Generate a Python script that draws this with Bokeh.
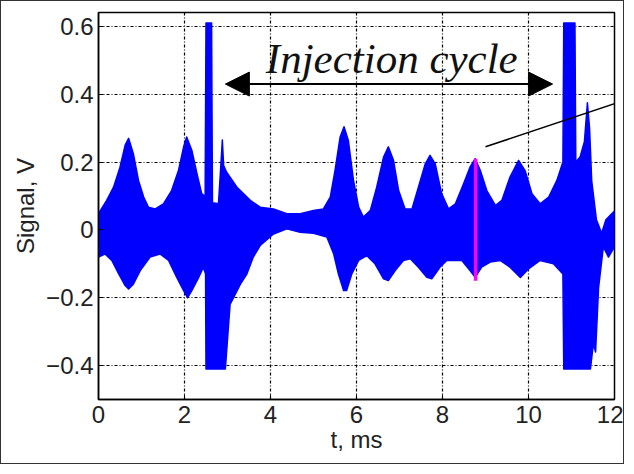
from bokeh.plotting import figure
from bokeh.models import Range1d, FixedTicker, Label, Arrow, NormalHead
from bokeh.embed import file_html
from bokeh.resources import INLINE

# ---- data (signal envelope) ----
t_upper = [0.0, 0.19, 0.35, 0.5, 0.62, 0.70, 0.81, 0.93, 1.05, 1.16, 1.32, 1.51, 1.70, 1.86, 1.98,
           2.05, 2.17, 2.29, 2.40, 2.48, 2.50, 2.63, 2.65, 2.79, 2.85, 2.88, 2.91, 2.98, 3.22, 3.53,
           3.76, 4.07, 4.38, 4.69, 5.0, 5.23, 5.39, 5.5, 5.62, 5.71, 5.81, 5.93, 6.05, 6.16, 6.32,
           6.47, 6.63, 6.74, 6.86, 6.98, 7.13, 7.29, 7.44, 7.6, 7.71, 7.83, 7.98, 8.14, 8.3, 8.49,
           8.64, 8.76, 8.88, 9.03, 9.23, 9.38, 9.57, 9.77, 9.92, 10.08, 10.27, 10.47, 10.66, 10.8,
           10.82, 11.08, 11.1, 11.2, 11.3, 11.37, 11.42, 11.47, 11.58, 11.7, 11.8, 11.93, 12.0]
v_upper = [0.048, 0.087, 0.126, 0.185, 0.25, 0.27, 0.225, 0.146, 0.097, 0.067, 0.062, 0.077, 0.116, 0.175, 0.245,
           0.274, 0.235, 0.166, 0.107, 0.098, 0.61, 0.61, 0.08, 0.077, 0.2, 0.265, 0.19, 0.17, 0.126, 0.087,
           0.067, 0.062, 0.048, 0.048, 0.057, 0.062, 0.097, 0.175, 0.274, 0.304, 0.264, 0.146, 0.067, 0.038, 0.057,
           0.126, 0.215, 0.245, 0.205, 0.116, 0.062, 0.062, 0.126, 0.195, 0.22, 0.195, 0.107, 0.062, 0.077, 0.136,
           0.185, 0.21, 0.175, 0.116, 0.072, 0.087, 0.156, 0.205, 0.175, 0.107, 0.077, 0.097, 0.146, 0.2,
           0.61, 0.61, 0.2, 0.215, 0.26, 0.375, 0.3, 0.145, 0.03, -0.01, 0.03, 0.047, 0.056]

t_lower = [0.0, 0.15, 0.31, 0.47, 0.62, 0.70, 0.81, 0.97, 1.2, 1.43, 1.63, 1.82, 1.98, 2.07, 2.17,
           2.33, 2.44, 2.49, 2.50, 2.95, 3.06, 3.3, 3.45, 3.6, 3.76, 4.07, 4.38, 4.69, 5.0, 5.31,
           5.47, 5.58, 5.70, 5.77, 5.89, 6.05, 6.24, 6.43, 6.63, 6.74, 6.9, 7.09, 7.25, 7.44, 7.64,
           7.75, 7.94, 8.1, 8.45, 8.64, 8.76, 8.91, 9.11, 9.34, 9.57, 9.81, 10.0, 10.27, 10.58, 10.8,
           10.82, 11.44, 11.51, 11.56, 11.63, 11.74, 11.86, 12.0]
v_lower = [-0.08, -0.071, -0.09, -0.13, -0.164, -0.174, -0.16, -0.12, -0.08, -0.071, -0.09, -0.14, -0.179, -0.2, -0.179,
           -0.14, -0.11, -0.13, -0.41, -0.41, -0.22, -0.16, -0.13, -0.08, -0.046, -0.012, 0.003, -0.007, -0.01, -0.021,
           -0.071, -0.13, -0.179, -0.179, -0.13, -0.09, -0.076, -0.1, -0.144, -0.149, -0.12, -0.09, -0.085, -0.11, -0.14,
           -0.144, -0.11, -0.09, -0.09, -0.12, -0.14, -0.11, -0.095, -0.09, -0.11, -0.14, -0.115, -0.09, -0.1, -0.13,
           -0.41, -0.41, -0.335, -0.36, -0.17, -0.05, -0.08, -0.05]

marker_t = [8.77, 8.77]
marker_v = [0.21, -0.15]

x_ticks = [0, 2, 4, 6, 8, 10, 12]
x_tick_labels = ["0", "2", "4", "6", "8", "10", "12"]
y_ticks = [-0.4, -0.2, 0, 0.2, 0.4, 0.6]
y_tick_labels = ["\u22120.4", "\u22120.2", "0", "0.2", "0.4", "0.6"]

# ---- figure ----
p = figure(width=624, height=464, output_backend="svg", toolbar_location=None,
           x_range=Range1d(0, 12), y_range=Range1d(-0.5, 0.641),
           min_border_left=97, min_border_right=11, min_border_top=11, min_border_bottom=66)
p.styles = {"border": "1px solid #333"}
p.background_fill_color = "white"
p.border_fill_color = "white"
p.outline_line_color = "black"
p.outline_line_width = 1.5

xs = t_upper + t_lower[::-1]
ys = v_upper + v_lower[::-1]
p.patch(xs, ys, fill_color="#0000FF", line_color="#0000FF", line_width=1.5, line_join="round")
p.line(marker_t, marker_v, line_color="#FF00FF", line_width=3.5)

# grid
for g in (p.xgrid, p.ygrid):
    g.grid_line_color = "black"
    g.grid_line_dash = "3 2 1 2"
    g.grid_line_width = 1.2
p.xgrid.ticker = FixedTicker(ticks=x_ticks)
p.ygrid.ticker = FixedTicker(ticks=y_ticks)

# axes
p.xaxis.ticker = FixedTicker(ticks=x_ticks)
p.yaxis.ticker = FixedTicker(ticks=y_ticks)
p.xaxis.major_label_overrides = {t: s for t, s in zip(x_ticks, x_tick_labels)}
p.yaxis.major_label_overrides = {t: s for t, s in zip(y_ticks, y_tick_labels)}
for ax in (p.xaxis, p.yaxis):
    ax.axis_line_color = "black"
    ax.axis_line_width = 1.5
    ax.major_tick_in = 5
    ax.major_tick_out = 0
    ax.minor_tick_line_color = None
    ax.major_label_text_font = "Liberation Sans"
    ax.major_label_text_font_size = "24px"
    ax.major_label_text_color = "#222222"
    ax.axis_label_text_font = "Liberation Sans"
    ax.axis_label_text_font_size = "24px"
    ax.axis_label_text_font_style = "normal"
    ax.axis_label_text_color = "#222222"
p.xaxis.axis_label = "t, ms"
p.yaxis.axis_label = "Signal, V"
p.xaxis.major_label_standoff = 6
p.xaxis.axis_label_standoff = 0
p.yaxis.major_label_standoff = 5
p.yaxis.axis_label_standoff = 4

# annotations
p.add_layout(Label(x=6.82, y=0.505, text="Injection cycle", text_font="Liberation Serif",
                   text_font_style="italic", text_font_size="43px", text_align="center",
                   text_baseline="alphabetic", text_color="#111111"))
p.add_layout(Arrow(x_start=2.95, y_start=0.43, x_end=10.56, y_end=0.43,
                   line_color="black", line_width=2,
                   start=NormalHead(size=24, fill_color="black", line_color="black"),
                   end=NormalHead(size=24, fill_color="black", line_color="black")))
p.add_layout(Arrow(x_start=9.0, y_start=0.245, x_end=12.3, y_end=0.385,
                   line_color="black", line_width=1.5, end=None))

open("out.html", "w").write(file_html(p, INLINE))
